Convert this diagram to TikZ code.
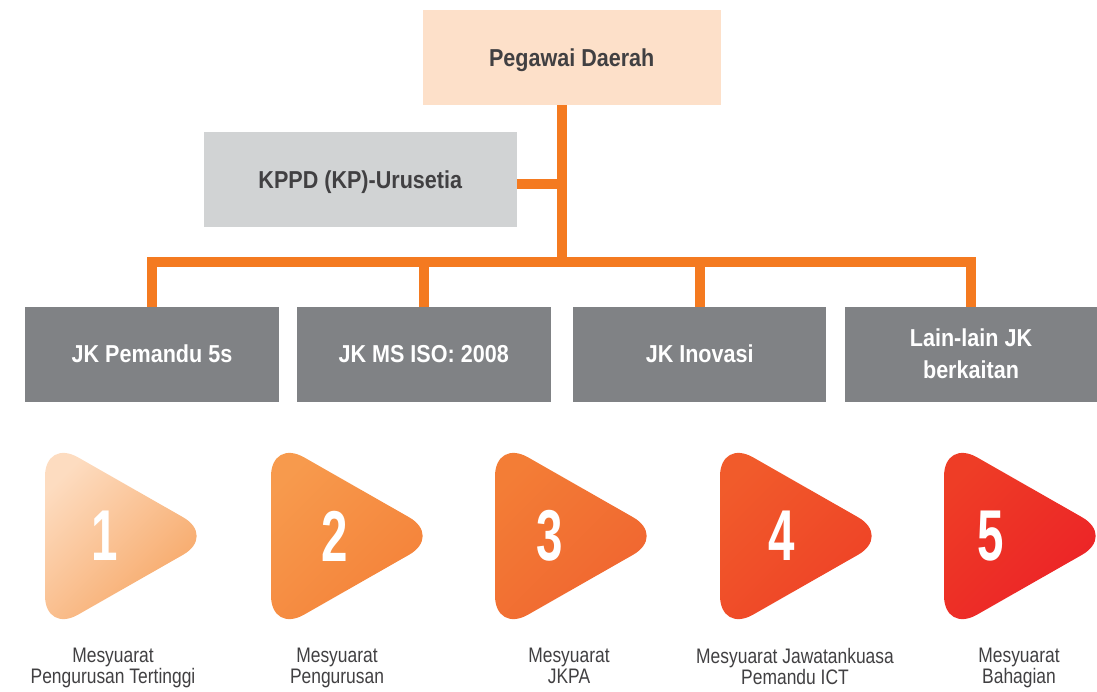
\documentclass[tikz,border=0pt]{standalone}
\usepackage{fontspec}
\setmainfont{Liberation Sans}
\newfontfamily\boxfont{Liberation Sans}[FakeStretch=0.88]
\newfontfamily\capfont{Liberation Sans}[FakeStretch=0.83]
\newfontfamily\numfont{Liberation Sans}[FakeStretch=0.66]

\definecolor{peach}{HTML}{FDE0C9}
\definecolor{lightgrey}{HTML}{D1D3D4}
\definecolor{darkgrey}{HTML}{808285}
\definecolor{wireorange}{HTML}{F47A20}
\definecolor{ink}{HTML}{414042}
\definecolor{tri1a}{HTML}{FDDCC0}
\definecolor{tri1b}{HTML}{F6A15C}
\definecolor{tri2a}{HTML}{F79A4D}
\definecolor{tri2b}{HTML}{F47F37}
\definecolor{tri3a}{HTML}{F37D36}
\definecolor{tri3b}{HTML}{F0622F}
\definecolor{tri4a}{HTML}{F15B2B}
\definecolor{tri4b}{HTML}{EE3F26}
\definecolor{tri5a}{HTML}{EE3D26}
\definecolor{tri5b}{HTML}{EC1F27}

\begin{document}
\begin{tikzpicture}[x=1pt,y=-1pt,
    box/.style={inner sep=0pt, outer sep=0pt, minimum height=95pt, align=center,
        font=\boxfont\bfseries\fontsize{24.5}{32}\selectfont},
    topbox/.style={box, fill=#1, text=ink, text depth=0pt},
    jkbox/.style={box, fill=darkgrey, text=white},
    wire/.style={draw=wireorange, line width=10pt},
    num/.style={text=white, inner sep=0pt, font=\numfont\bfseries\fontsize{72}{72}\selectfont},
    caption/.style={anchor=north, inner sep=0pt, align=center, text=ink,
        font=\capfont\fontsize{21}{21.5}\selectfont}]
    \useasboundingbox (0,0) rectangle (1097,691);

    \node[topbox=peach, minimum width=298pt] (pd) at (571.7,57.5) {Pegawai Daerah};
    \node[topbox=lightgrey, minimum width=313pt] (kppd) at (360.3,179.2) {KPPD (KP)-Urusetia};
    \node[jkbox, minimum width=254pt] (jk1) at (152,354.2) {JK Pemandu 5s};
    \node[jkbox, minimum width=254pt] (jk2) at (423.7,354.2) {JK MS ISO: 2008};
    \node[jkbox, minimum width=253pt] (jk3) at (699.7,354.2) {JK Inovasi};
    \node[jkbox, minimum width=252pt] (jk4) at (971,354.2) {Lain-lain JK\\berkaitan};

    \coordinate (bus) at (561.7,261.7);
    \draw[wire] (pd.south -| bus) -- (bus);
    \draw[wire] ([yshift=-5pt]kppd.east) -- ([yshift=-5pt]kppd.east -| bus);
    \draw[wire, line cap=rect] (jk1.north |- bus) -- (jk4.north |- bus);
    \foreach \n in {jk1,jk2,jk3,jk4}
        \draw[wire] (\n.north |- bus) -- (\n.north);

    % steps
    \foreach \i/\x/\nx/\cx/\txt in {1/45/105/113/{Mesyuarat\\Pengurusan Tertinggi},
            2/271/335/337/{Mesyuarat\\Pengurusan},
            3/495/550/569/{Mesyuarat\\JKPA},
            4/720/782/795/{Mesyuarat Jawatankuasa\\Pemandu ICT},
            5/944/991/1019/{Mesyuarat\\Bahagian}} {
        \shade[rounded corners=38pt, top color=tri\i a, bottom color=tri\i b, shading angle=45]
            (\x,438.5) -- (\x+171,536) -- (\x,633.5) -- cycle;
        \node[num] (n\i) at (\nx,536) {\i};
        \node[caption] (c\i) at (\cx,647.7) {\txt};
    }
\end{tikzpicture}
\end{document}
